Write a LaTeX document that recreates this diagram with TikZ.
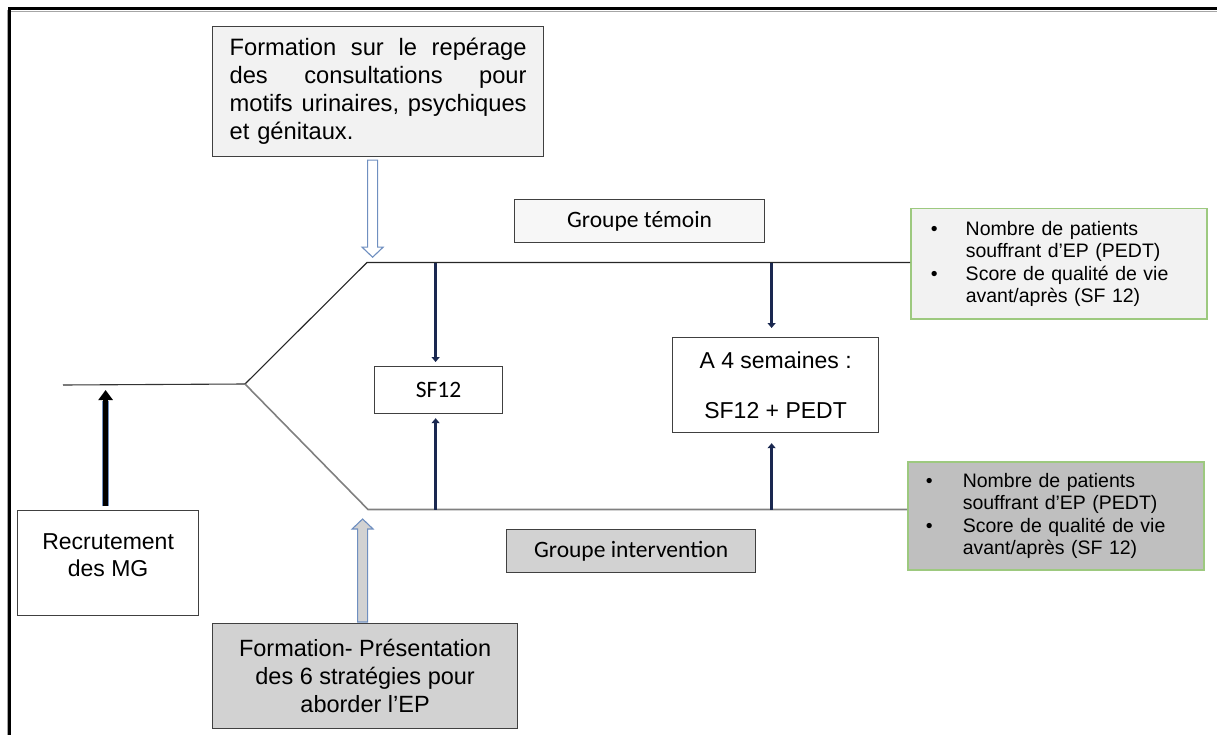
\documentclass[tikz,border=0pt]{standalone}
\usepackage{fontspec}
\setmainfont{Liberation Sans}
\newfontfamily\calibfont{Carlito}
\usetikzlibrary{arrows.meta,calc}
\definecolor{boxgray}{HTML}{404040}
\definecolor{topfill}{HTML}{F2F2F2}
\definecolor{temfill}{HTML}{F7F7F7}
\definecolor{midgray}{HTML}{D2D2D2}
\definecolor{darkfill}{HTML}{BFBFBF}
\definecolor{boxgreen}{HTML}{9DC97F}
\definecolor{outblue}{HTML}{6F8FC0}
\definecolor{navy}{HTML}{1A2850}
\definecolor{linegray}{HTML}{808080}
\newcommand\jline[1]{\leavevmode\hbox to 297pt{#1}}
\begin{document}
\begin{tikzpicture}[x=1pt,y=-1pt,
  box/.style={draw=boxgray, line width=1.2pt, inner sep=0pt, anchor=north west},
  greenbox/.style={draw=boxgreen, line width=1.5pt, inner sep=0pt, anchor=north west},
  arialtxt/.style={font=\fontsize{23}{27}\selectfont},
  smalltxt/.style={font=\fontsize{19.5}{22.5}\selectfont},
  calibtxt/.style={font=\calibfont\fontsize{23.5}{27}\selectfont},
  navyarrow/.style={draw=navy, line width=3.6pt, -{Triangle[width=8pt,length=5pt]}},
  hollowarrow/.style={draw=outblue, line width=1.1pt, line join=miter}
]
\useasboundingbox (0,0) rectangle (1217,735);
% frame
\draw[linegray!70, line width=1pt] (11,11.5) -- (1217,11.5);
\draw[linegray!70, line width=1pt] (7,10) -- (7,735);
\draw[black, line width=3.5pt] (9.5,735) -- (9.5,8.5) -- (1217,8.5);

% nodes
\node[box, fill=topfill, minimum width=331pt, minimum height=130pt,
      text width=297pt, align=left, font=\fontsize{23.7}{28}\selectfont] (top) at (212,26)
  {\jline{Formation\hfill sur\hfill le\hfill repérage}\\
   \jline{des\hfill consultations\hfill pour}\\
   \jline{motifs\hfill urinaires,\hfill psychiques}\\
   et génitaux.};
\node[box, fill=temfill, minimum width=250pt, minimum height=43pt, calibtxt] (tem) at (514,199) {Groupe témoin};
\node[greenbox, fill=topfill, minimum width=296pt, minimum height=110pt,
      text width=256pt, align=left, smalltxt] (res1) at (910,208)
  {\makebox[35pt][l]{\textbullet}Nombre de patients\\
   \hspace*{35pt}souffrant d’EP (PEDT)\\
   \makebox[35pt][l]{\textbullet}Score de qualité de vie\\
   \hspace*{35pt}avant/après (SF 12)};
\node[greenbox, fill=darkfill, minimum width=296pt, minimum height=108pt,
      text width=260pt, align=left, smalltxt] (res2) at (907,461)
  {\makebox[37pt][l]{\textbullet}Nombre de patients\\
   \hspace*{37pt}souffrant d’EP (PEDT)\\
   \makebox[37pt][l]{\textbullet}Score de qualité de vie\\
   \hspace*{37pt}avant/après (SF 12)};
\node[box, fill=white, minimum width=181pt, minimum height=105pt, align=center, arialtxt] (rec) at (17,510)
  {Recrutement\\des MG\\[-11pt]\mbox{}};
\node[box, fill=white, minimum width=128pt, minimum height=47pt, calibtxt] (sf) at (374,366) {SF12};
\node[box, fill=white, minimum width=206pt, minimum height=95pt, align=center, arialtxt] (a4) at (672,337)
  {A 4 semaines :\\[23pt]SF12 + PEDT};
\node[box, fill=midgray, minimum width=249pt, minimum height=43pt, calibtxt] (inter) at (506,529) {Groupe intervention};
\node[box, fill=midgray, minimum width=305pt, minimum height=105pt, align=center,
      font=\fontsize{23.5}{28}\selectfont] (bot) at (212,623)
  {Formation- Présentation\\des 6 stratégies pour\\aborder l’EP};

% branching lines
\coordinate (L0) at (63,385);
\coordinate (B) at (245,384);
\coordinate (U0) at (367,262.5);
\coordinate (D0) at (368,509.5);
\draw[black!80, line width=1.1pt] (L0) -- (B);
\draw[black!85, line width=1.1pt] (B) -- (U0) -- (res1.west |- U0);
\draw[linegray, line width=1.6pt] (B) -- (D0) -- (res2.west |- D0);

% navy arrows
\coordinate (sfn) at ([xshift=-3pt]sf.north);
\coordinate (sfs) at ([xshift=-3pt]sf.south);
\coordinate (a4n) at ([xshift=-4pt]a4.north);
\coordinate (a4s) at ([xshift=-4pt]a4.south);
\draw[navyarrow, shorten >=4pt] (sfn |- U0) -- (sfn);
\draw[navyarrow, shorten >=4pt] (sfs |- D0) -- (sfs);
\draw[navyarrow, shorten >=9pt] (a4n |- U0) -- (a4n);
\draw[navyarrow, shorten >=10pt] (a4s |- D0) -- (a4s);

% recruitment arrow
\coordinate (rt) at ([xshift=-2.5pt,yshift=4pt]rec.north);
\draw[outblue, line width=7.5pt, shorten >=16pt] (rt) -- (rt |- L0);
\draw[black, line width=5.5pt, -{Triangle[width=14pt,length=10pt]}, shorten >=5pt] (rt) -- (rt |- L0);

% hollow block arrows
\coordinate (ta) at ([xshift=-5.5pt,yshift=-3pt]top.south);
\draw[hollowarrow, fill=white] ($(ta)+(-5,0)$) -- ++(0,87) -- ++(-5.5,0) -- ($(ta)+(0,97)$)
  -- ++(10.5,-10) -- ++(-5.5,0) -- ++(0,-87) -- cycle;
\coordinate (ba) at ([xshift=-2.5pt,yshift=1pt]bot.north);
\draw[hollowarrow, fill=midgray] ($(ba)+(-5,0)$) -- ++(0,-93) -- ++(-5.5,0) -- ($(ba)+(0,-103)$)
  -- ++(10.5,10) -- ++(-5.5,0) -- ++(0,93) -- cycle;
\end{tikzpicture}
\end{document}
